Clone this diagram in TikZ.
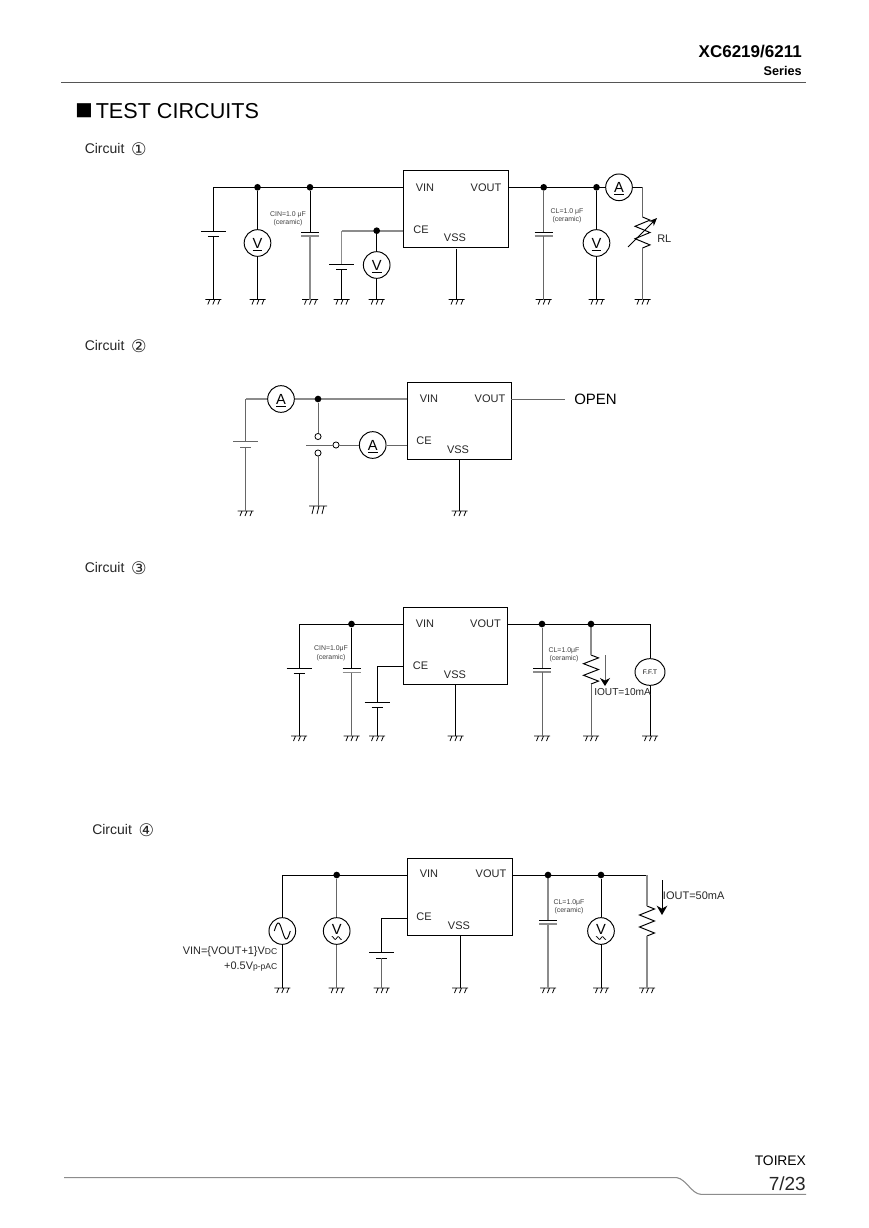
\documentclass[tikz,border=0pt]{standalone}
\usepackage{fontspec}
\setmainfont{Liberation Sans}
\newfontfamily\djv{DejaVu Sans}
\usetikzlibrary{calc,arrows.meta,shapes.geometric}
\definecolor{gw}{HTML}{8C8C8C}
\definecolor{tg}{HTML}{666666}
\definecolor{rulec}{HTML}{555555}
\tikzset{
  x=0.75pt,y=-0.75pt,
  wire/.style={draw=black,line width=0.72pt},
  gwire/.style={draw=gw,line width=1.2pt},
  twire/.style={draw=tg,line width=0.72pt},
  chip/.style={draw=black,line width=0.72pt,fill=white,anchor=north west,inner sep=0,outer sep=0},
  meter/.style={draw=black,circle,line width=0.72pt,fill=white,minimum size=20pt,inner sep=0,font=\fontsize{11}{12}\selectfont},
  pinl/.style={inner sep=0,font=\fontsize{8.25}{10}\selectfont,text=black!85},
  tinyl/.style={inner sep=0,font=\fontsize{5.2}{6}\selectfont,text=black!75},
  capl/.style={inner sep=0,font=\fontsize{10.5}{12}\selectfont,anchor=base west,text=black!85},
  dotn/.style={circle,fill=black,inner sep=0,minimum size=5pt},
  opn/.style={circle,draw=black,fill=white,line width=0.6pt,inner sep=0,minimum size=4.6pt},
  loadl/.style={inner sep=0,text=black!85},
}
\newcommand{\Circ}[1]{\hspace{5pt}\raisebox{-1.2pt}{\djv\fontsize{13}{13}\selectfont #1}}
\newcommand{\Gnd}[2][black]{\begin{scope}[shift={(#2)}]
  \draw[draw=#1,line width=0.6pt] (-8,0)--(8,0) (-3.5,0)--(-5.5,5) (1.5,0)--(-0.5,5) (6.5,0)--(4.5,5);
\end{scope}}
\newcommand{\GndB}[1]{\begin{scope}[shift={(#1)}]
  \draw[line width=0.6pt] (-9,0)--(9,0) (-4,0)--(-6,8) (1,0)--(-1,8) (6,0)--(4,8);
\end{scope}}
\newcommand{\Batt}[4][black]{\coordinate (#2hi) at (#3,#4);\coordinate (#2lo) at (#3,#4+5.5);
  \draw[draw=#1,line width=0.72pt] (#3-12.5,#4)--(#3+12.5,#4) (#3-5.5,#4+5.5)--(#3+5.5,#4+5.5);}
\newcommand{\Capa}[4][black]{\coordinate (#2hi) at (#3,#4);\coordinate (#2lo) at (#3,#4+4);
  \draw[draw=#1,line width=0.72pt] (#3-9,#4)--(#3+9,#4);
  \draw[draw=gw,line width=1.1pt] (#3-9,#4+4)--(#3+9,#4+4);}
\newcommand{\Zig}[5][black]{\coordinate (#2hi) at (#3,#4);\coordinate (#2lo) at (#3,#5);
  \draw[draw=#1,line width=0.72pt,line join=miter] (#3,#4)
   --(#3+7.5,{#4+0.1*(#5-#4)})--(#3-7.5,{#4+0.3*(#5-#4)})--(#3+7.5,{#4+0.5*(#5-#4)})
   --(#3-7.5,{#4+0.7*(#5-#4)})--(#3+7.5,{#4+0.9*(#5-#4)})--(#3,#5);}
\newcommand{\WaveT}[1]{\draw[line width=0.55pt,shift={(#1)}] plot[domain=-5:5,samples=20,smooth] (\x,{7-1.4*sin(\x*60)});}
\newcommand{\UV}[2]{\node[meter] (#1) at (#2) {\smash{\raisebox{-3.75pt}{\underline{V}}}};}
\newcommand{\UA}[2]{\node[meter] (#1) at (#2) {\smash{\raisebox{-3.75pt}{\underline{A}}}};}
\newcommand{\VT}[2]{\node[meter] (#1) at (#2) {\smash{\raisebox{-2.25pt}{V}}};\WaveT{#1.center}}
\begin{document}
\begin{tikzpicture}
\useasboundingbox (0,0) rectangle (868,1228);
\fill[white] (0,0) rectangle (868,1228);
% header
\node[inner sep=0,anchor=east,font=\fontsize{12.75}{14}\bfseries\selectfont] (hd1) at (802,52) {XC6219/6211};
\node[inner sep=0,anchor=east,font=\fontsize{9.5}{11}\bfseries\selectfont] (hd2) at (802,71) {Series};
\coordinate (ruleL) at (61,82.5);\coordinate (ruleR) at (806,82.5);
\draw[draw=rulec,line width=0.6pt] (ruleL)--(ruleR);
\node[inner sep=0,anchor=center,font=\djv\fontsize{13.8}{15}\selectfont] (sq) at (84,111) {■};
\node[inner sep=0,anchor=west,font=\fontsize{16.2}{18}\selectfont] (ttl) at (95.5,111) {TEST CIRCUITS};
\node[capl] (c1) at (84.5,153.5) {Circuit\Circ{①}};
\node[capl] (c2) at (84.5,350.5) {Circuit\Circ{②}};
\node[capl] (c3) at (84.5,572.5) {Circuit\Circ{③}};
\node[capl] (c4) at (92,834.5) {Circuit\Circ{④}};
% footer
\coordinate (fL) at (64,1177.7);\coordinate (fM) at (677,1177.7);\coordinate (fN) at (701,1194.3);\coordinate (fR) at (806,1194.3);
\draw[draw=gw,line width=0.8pt] (fL)--(fM) .. controls (686,1179) and (692,1194.3) .. (fN)--(fR);
\node[inner sep=0,anchor=east,font=\fontsize{10.4}{12}\selectfont] (logo) at (806,1161) {TOI\kern-0.3ptREX};
\node[inner sep=0,anchor=east,font=\fontsize{14.25}{16}\selectfont,text=black!85] (pg) at (806,1184) {7/23};

%% ---------- Circuit 1
\node[chip,minimum width=78.75pt,minimum height=58pt] (u1) at (403.3,170.5) {};
\node[pinl] (u1a) at (425,187.5) {VIN};
\node[pinl] (u1b) at (486,187.5) {VOUT};
\node[pinl] (u1c) at (421,229.5) {CE};
\node[pinl] (u1d) at (455,238) {VSS};
\coordinate (a1) at (213.3,187.3);\coordinate (a2) at (403.3,187.3);
\node[dotn] (j1) at (257.5,187.3) {};
\node[dotn] (j2) at (310,187.3) {};
\Batt{b1}{213.3}{231}
\UV{v1}{257.5,243}
\Capa{k1}{310}{232}
\coordinate (g1) at (213.3,299.5);\coordinate (g2) at (257.5,299.5);\coordinate (g3) at (310,299.5);
\coordinate (g4) at (341.5,299.5);\coordinate (g5) at (376.7,299.5);\coordinate (g6) at (456.5,299.5);
\coordinate (g7) at (543.7,299.5);\coordinate (g8) at (596.5,299.5);\coordinate (g9) at (642.5,299.5);
\foreach \g in {g1,g2,g3,g4,g5,g6,g7,g8,g9}{\Gnd{\g}}
\draw[wire] (a2)--(a1)--(b1hi);
\draw[wire] (b1lo)--(g1);
\draw[wire] (j1)--(v1) (v1)--(g2);
\draw[wire] (j2)--(k1hi);
\draw[gwire] (k1lo)--(g3);
\node[tinyl] (t1) at (288,215) {CIN=1.0 μF};
\node[tinyl] (t2) at (288,223) {(ceramic)};
% CE
\coordinate (ce1) at (403.3,230.7);\coordinate (ce2) at (341.5,230.7);
\Batt{b2}{341.5}{264}
\draw[gwire] (ce1)--(ce2);
\draw[gwire] (ce2)--(b2hi);
\node[dotn] (j3) at (376.7,230.7) {};
\UV{v2}{376.7,265}
\draw[wire] (b2lo)--(g4);
\draw[wire] (j3)--(v2) (v2)--(g5);
\coordinate (s1) at (456.5,248.5);
\draw[wire] (s1)--(g6);
% output
\coordinate (o1) at (508,187.3);
\node[dotn] (j4) at (543.7,187.3) {};
\node[dotn] (j5) at (596.5,187.3) {};
\UA{am1}{619,187.3}
\draw[wire] (o1)--(am1);
\coordinate (r1c) at (642.5,187.3);
\Capa{k2}{543.7}{232}
\draw[twire] (j4)--(k2hi);
\draw[twire] (k2lo)--(g7);
\UV{v3}{596.5,243}
\draw[wire] (j5)--(v3) (v3)--(g8);
\Zig{r1}{642.5}{217}{248}
\draw[wire] (am1)--(r1c);
\draw[twire] (r1c)--(r1hi);
\draw[twire] (r1lo)--(g9);
\coordinate (ra1) at (628,247);\coordinate (ra2) at (657,218);
\draw[line width=0.6pt,-{Stealth[length=6pt,width=5pt]}] (ra1)--(ra2);
\node[pinl,anchor=west] (rl) at (657,238.5) {RL};
\node[tinyl] (t3) at (567,212) {CL=1.0 μF};
\node[tinyl] (t4) at (567,220) {(ceramic)};

%% ---------- Circuit 2
\node[chip,minimum width=78pt,minimum height=57.75pt] (u2) at (407,382.5) {};
\node[pinl] (u2a) at (429,398.5) {VIN};
\node[pinl] (u2b) at (490,398.5) {VOUT};
\node[pinl] (u2c) at (424,441) {CE};
\node[pinl] (u2d) at (458,449.5) {VSS};
\coordinate (p1) at (407,399);\coordinate (p2) at (245.5,399);
\UA{am2}{281,399}
\Batt[tg]{b3}{245.5}{441.7}
\coordinate (g10) at (245.5,511);\coordinate (g11) at (318,506);\coordinate (g12) at (459.5,511);
\Gnd{g10}\GndB{g11}\Gnd{g12}
\draw[gwire] (p1)--(am2) (am2)--(p2);
\draw[twire] (p2)--(b3hi);
\draw[twire] (b3lo)--(g10);
\node[dotn] (j6) at (318,399) {};
\node[opn] (sw1) at (318,436.5) {};
\node[opn] (sw2) at (318,453) {};
\node[opn] (sw3) at (336,445) {};
\coordinate (sw0) at (306,445);
\draw[twire] (j6)--(sw1);
\draw[twire] (sw2)--(g11);
\draw[twire] (sw0)--(sw3);
\UA{am3}{372.7,445}
\draw[twire] (sw3)--(am3);
\coordinate (p3) at (407,445);
\draw[twire] (am3)--(p3);
\coordinate (s2) at (459.5,460);
\draw[wire] (s2)--(g12);
\coordinate (o2) at (511,399);\coordinate (o2b) at (565,399);
\draw[twire] (o2)--(o2b);
\node[inner sep=0,anchor=west,font=\fontsize{11.25}{13}\selectfont] (opn2) at (574,399.5) {OPEN};

%% ---------- Circuit 3
\node[chip,minimum width=78pt,minimum height=57.75pt] (u3) at (403.5,607) {};
\node[pinl] (u3a) at (425,623.5) {VIN};
\node[pinl] (u3b) at (485.5,623.5) {VOUT};
\node[pinl] (u3c) at (420.5,666) {CE};
\node[pinl] (u3d) at (455,675) {VSS};
\coordinate (q1) at (403.5,624);\coordinate (q2) at (299,624);
\node[dotn] (j7) at (351.5,624) {};
\foreach \n/\x in {g13/299,g14/351.5,g15/377,g16/455.5,g17/542,g18/591,g19/650}{\coordinate (\n) at (\x,736);\Gnd{\n}}
\Batt{b4}{299}{668}
\Capa{k3}{351.5}{668.5}
\draw[wire] (q1)--(q2)--(b4hi);
\draw[wire] (b4lo)--(g13);
\draw[wire] (j7)--(k3hi);
\draw[twire] (k3lo)--(g14);
\node[tinyl] (t5) at (331,649) {CIN=1.0μF};
\node[tinyl] (t6) at (331,658) {(ceramic)};
\coordinate (ce3) at (403.5,666);\coordinate (ce3b) at (377,666);
\Batt{b5}{377}{702}
\draw[wire] (ce3)--(ce3b)--(b5hi);
\draw[wire] (b5lo)--(g15);
\coordinate (s3) at (455.5,684.5);
\draw[wire] (s3)--(g16);
\coordinate (o3) at (507.5,624);\coordinate (o3b) at (650,624);
\node[dotn] (j8) at (542,624) {};
\node[draw=black,ellipse,line width=0.72pt,fill=white,minimum width=22.5pt,minimum height=20pt,inner sep=0,font=\fontsize{4.9}{6}\selectfont] (fft) at (650,672) {F.F.T};
\draw[wire] (o3)--(o3b)--(fft);
\draw[wire] (fft)--(g19);
\Capa[black]{k4}{542}{668}
\draw[twire] (j8)--(k4hi);
\draw[twire] (k4lo)--(g17);
\Zig{r3}{591}{655}{684}
\coordinate (j9c) at (591,624);
\draw[gwire] (j9c)--(r3hi);
\node[dotn] (j9) at (591,624) {};
\draw[twire] (r3lo)--(g18);
\coordinate (ia1) at (605,655);\coordinate (ia2) at (605,686);
\draw[draw=tg,line width=0.72pt,-{Stealth[length=6pt,width=7.5pt,color=black]}] (ia1)--(ia2);
\node[loadl,anchor=west,font=\fontsize{7.6}{9}\selectfont] (io3) at (594,692) {IOUT=10mA};
\node[tinyl] (t7) at (564,650.5) {CL=1.0μF};
\node[tinyl] (t8) at (564,659) {(ceramic)};

%% ---------- Circuit 4
\node[chip,minimum width=78.75pt,minimum height=57.75pt] (u4) at (407,858) {};
\node[pinl] (u4a) at (429,874) {VIN};
\node[pinl] (u4b) at (491,874) {VOUT};
\node[pinl] (u4c) at (424,917) {CE};
\node[pinl] (u4d) at (459,926) {VSS};
\coordinate (w1) at (407,875);\coordinate (w2) at (282.3,875);
\node[dotn] (j10) at (336.7,875) {};
\foreach \n/\x in {g20/282.3,g21/336.7,g22/381.7,g23/460,g24/548,g25/601,g26/647}{\coordinate (\n) at (\x,988);\Gnd{\n}}
\node[meter] (src) at (282.3,931) {};
\draw[line width=0.72pt,shift={(src.center)}] plot[domain=-8:8,samples=40,smooth] (\x,{8*sin(\x*22.5)});
\draw[wire] (w1)--(w2)--(src);
\draw[wire] (src)--(g20);
\VT{v4}{336.7,931}
\draw[twire] (j10)--(v4) (v4)--(g21);
\coordinate (ce4) at (407,918);\coordinate (ce4b) at (381.7,918);
\Batt{b6}{381.7}{952.7}
\draw[wire] (ce4)--(ce4b)--(b6hi);
\draw[twire] (b6lo)--(g22);
\coordinate (s4) at (460,935.5);
\draw[wire] (s4)--(g23);
\coordinate (o4) at (512,875);\coordinate (o4b) at (647,875);
\coordinate (j11c) at (548,875);
\Capa[black]{k5}{548}{920}
\draw[gwire] (j11c)--(k5hi);
\draw[gwire] (k5lo)--(g24);
\draw[wire] (o4)--(o4b);
\node[dotn] (j11) at (548,875) {};
\node[dotn] (j12) at (601,875) {};
\VT{v5}{601,931}
\draw[wire] (j12)--(v5) (v5)--(g25);
\Zig{r4}{647}{906}{936}
\draw[gwire] (o4b)--(r4hi);
\draw[gwire] (r4lo)--(g26);
\coordinate (ib1) at (662,880);\coordinate (ib2) at (662,915);
\draw[line width=0.72pt,-{Stealth[length=7pt,width=8pt]}] (ib1)--(ib2);
\node[loadl,anchor=west,font=\fontsize{8.25}{10}\selectfont] (io4) at (662.7,895.5) {IOUT=50mA};
\node[tinyl] (t9) at (569,902.5) {CL=1.0μF};
\node[tinyl] (t10) at (569,910.5) {(ceramic)};
\node[loadl,anchor=east,font=\fontsize{8.2}{9}\selectfont] (vin1) at (277.5,952) {VIN=\{VOUT+1\}V{\fontsize{6.4}{8}\selectfont DC}};
\node[loadl,anchor=east,font=\fontsize{8.2}{9}\selectfont] (vin2) at (277.5,967) {+0.5V{\fontsize{6.4}{8}\selectfont p-pAC}};
\end{tikzpicture}
\end{document}
